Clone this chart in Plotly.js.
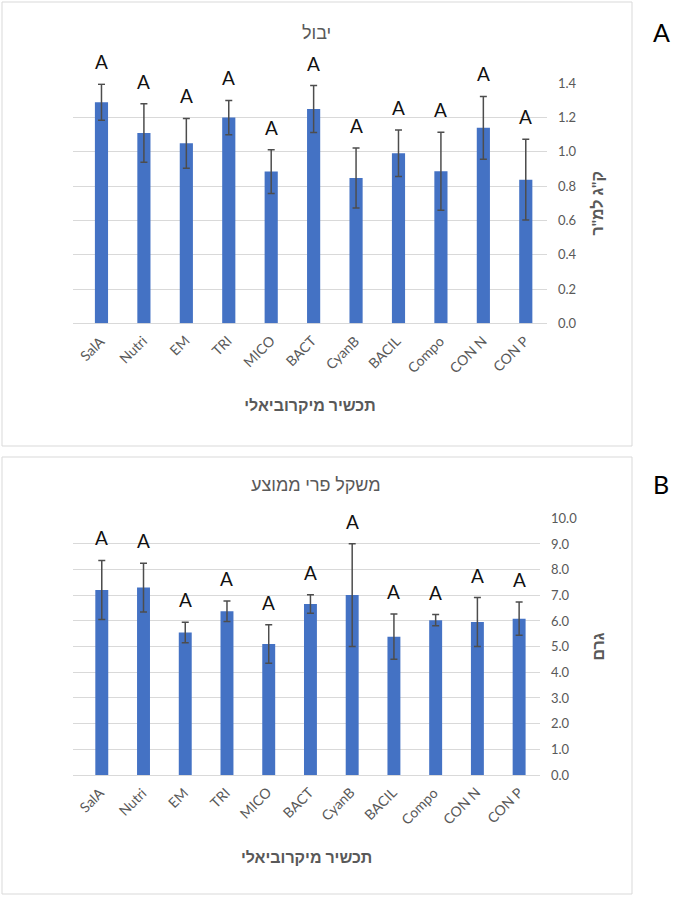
<!DOCTYPE html>
<html>
<head>
<meta charset="utf-8">
<script src="https://cdn.plot.ly/plotly-3.0.1.min.js"></script>
<style>html,body{margin:0;padding:0;background:#fff;}#chart{width:691px;height:899px;}</style>
</head>
<body>
<div id="chart"></div>
<script>
const categories = ['SalA','Nutri','EM','TRI','MICO','BACT','CyanB','BACIL','Compo','CON N','CON P'];
const yieldValues = [1.29, 1.11, 1.05, 1.20, 0.885, 1.25, 0.848, 0.992, 0.887, 1.14, 0.838];
const yieldErrors = [0.105, 0.17, 0.145, 0.10, 0.128, 0.137, 0.175, 0.135, 0.227, 0.183, 0.235];
const weightValues = [7.21, 7.30, 5.55, 6.38, 5.10, 6.66, 7.01, 5.39, 6.03, 5.96, 6.09];
const weightErrors = [1.15, 0.95, 0.40, 0.40, 0.75, 0.36, 2.0, 0.88, 0.22, 0.95, 0.65];
const yieldLetters = ['A','A','A','A','A','A','A','A','A','A','A'];
const weightLetters = ['A','A','A','A','A','A','A','A','A','A','A'];
const titleA = 'יבול';
const titleB = 'משקל פרי ממוצע';
const xTitle = 'תכשיר מיקרוביאלי';
const yTitleA = 'ק"ג למ"ר';
const yTitleB = 'גרם';

const W = 691, H = 899;
const px = v => v / W;
const py = v => 1 - v / H;
const FONT = "Lato, 'Liberation Sans', Arial, sans-serif";
const GRAY = '#595959';
const BAR = '#4472C4';

const traces = [
  {type:'bar', x:categories, y:yieldValues, xaxis:'x', yaxis:'y', marker:{color:BAR},
   error_y:{type:'data', array:yieldErrors, visible:true, color:'#4d4d4d', thickness:1.5, width:3.5},
   hoverinfo:'x+y', showlegend:false},
  {type:'bar', x:categories, y:weightValues, xaxis:'x2', yaxis:'y2', marker:{color:BAR},
   error_y:{type:'data', array:weightErrors, visible:true, color:'#4d4d4d', thickness:1.5, width:3.5},
   hoverinfo:'x+y', showlegend:false}
];

const annotations = [];
categories.forEach((c, i) => {
  annotations.push({x:c, y:yieldValues[i] + yieldErrors[i], xref:'x', yref:'y', text:yieldLetters[i],
    showarrow:false, yanchor:'bottom', yshift:9, font:{family:FONT, size:19, color:'#111'}});
  annotations.push({x:c, y:weightValues[i] + weightErrors[i], xref:'x2', yref:'y2', text:weightLetters[i],
    showarrow:false, yanchor:'bottom', yshift:9, font:{family:FONT, size:19, color:'#111'}});
  // rotated category labels under each bar
  annotations.push({x:c, y:0, xref:'x', yref:'y', text:c, showarrow:false, textangle:-45,
    xanchor:'right', yanchor:'top', xshift:9, yshift:-6, font:{family:FONT, size:14, color:GRAY}});
  annotations.push({x:c, y:0, xref:'x2', yref:'y2', text:c, showarrow:false, textangle:-45,
    xanchor:'right', yanchor:'top', xshift:9, yshift:-6, font:{family:FONT, size:14, color:GRAY}});
});
annotations.push({x:px(316), y:py(32), xref:'paper', yref:'paper', text:titleA, showarrow:false,
  xanchor:'center', yanchor:'middle', font:{family:FONT, size:18, color:GRAY}});
annotations.push({x:px(316), y:py(484), xref:'paper', yref:'paper', text:titleB, showarrow:false,
  xanchor:'center', yanchor:'middle', font:{family:FONT, size:18, color:GRAY}});
annotations.push({x:px(661), y:py(32), xref:'paper', yref:'paper', text:'A', showarrow:false,
  xanchor:'center', yanchor:'middle', font:{family:FONT, size:25, color:'#000'}});
annotations.push({x:px(661), y:py(484), xref:'paper', yref:'paper', text:'B', showarrow:false,
  xanchor:'center', yanchor:'middle', font:{family:FONT, size:25, color:'#000'}});

function xAxis(domain, anchor) {
  return {
    domain:domain, anchor:anchor, automargin:false,
    type:'category', showticklabels:false, showgrid:false, zeroline:false, showline:false, ticks:'',
    fixedrange:true,
    title:{text:xTitle, font:{family:FONT, size:16, color:GRAY, weight:'bold'}, standoff:76}
  };
}
function yAxis(domain, anchor, range, dtick, title) {
  return {
    domain:domain, anchor:anchor, range:range, dtick:dtick, automargin:false,
    side:'right', showgrid:true, gridcolor:'#d9d9d9', gridwidth:1, zeroline:true, zerolinecolor:'#d9d9d9',
    zerolinewidth:1, showline:false, ticks:'', tickformat:'.1f',
    tickfont:{family:FONT, size:13, color:GRAY}, ticklabelstandoff:10, fixedrange:true,
    title:{text:title, font:{family:FONT, size:16, color:GRAY, weight:'bold'}, standoff:16}
  };
}

const layout = {
  width:W, height:H, margin:{l:0, r:0, t:0, b:0}, paper_bgcolor:'#fff', plot_bgcolor:'#fff',
  bargap:0.69, showlegend:false,
  xaxis: xAxis([px(73), px(547)], 'y'),
  yaxis: yAxis([py(323.3), py(83.3)], 'x', [0, 1.4], 0.2, yTitleA),
  xaxis2: xAxis([px(73.3), px(540)], 'y2'),
  yaxis2: yAxis([py(775), py(518.3)], 'x2', [0, 10], 1, yTitleB),
  annotations: annotations,
  shapes: [
    {type:'rect', xref:'paper', yref:'paper', x0:px(2), x1:px(632), y0:py(446), y1:py(2),
     line:{color:'#d9d9d9', width:1}, layer:'below'},
    {type:'rect', xref:'paper', yref:'paper', x0:px(2), x1:px(632), y0:py(894), y1:py(457),
     line:{color:'#d9d9d9', width:1}, layer:'below'}
  ]
};

Plotly.newPlot('chart', traces, layout, {displayModeBar:false});
</script>
</body>
</html>
